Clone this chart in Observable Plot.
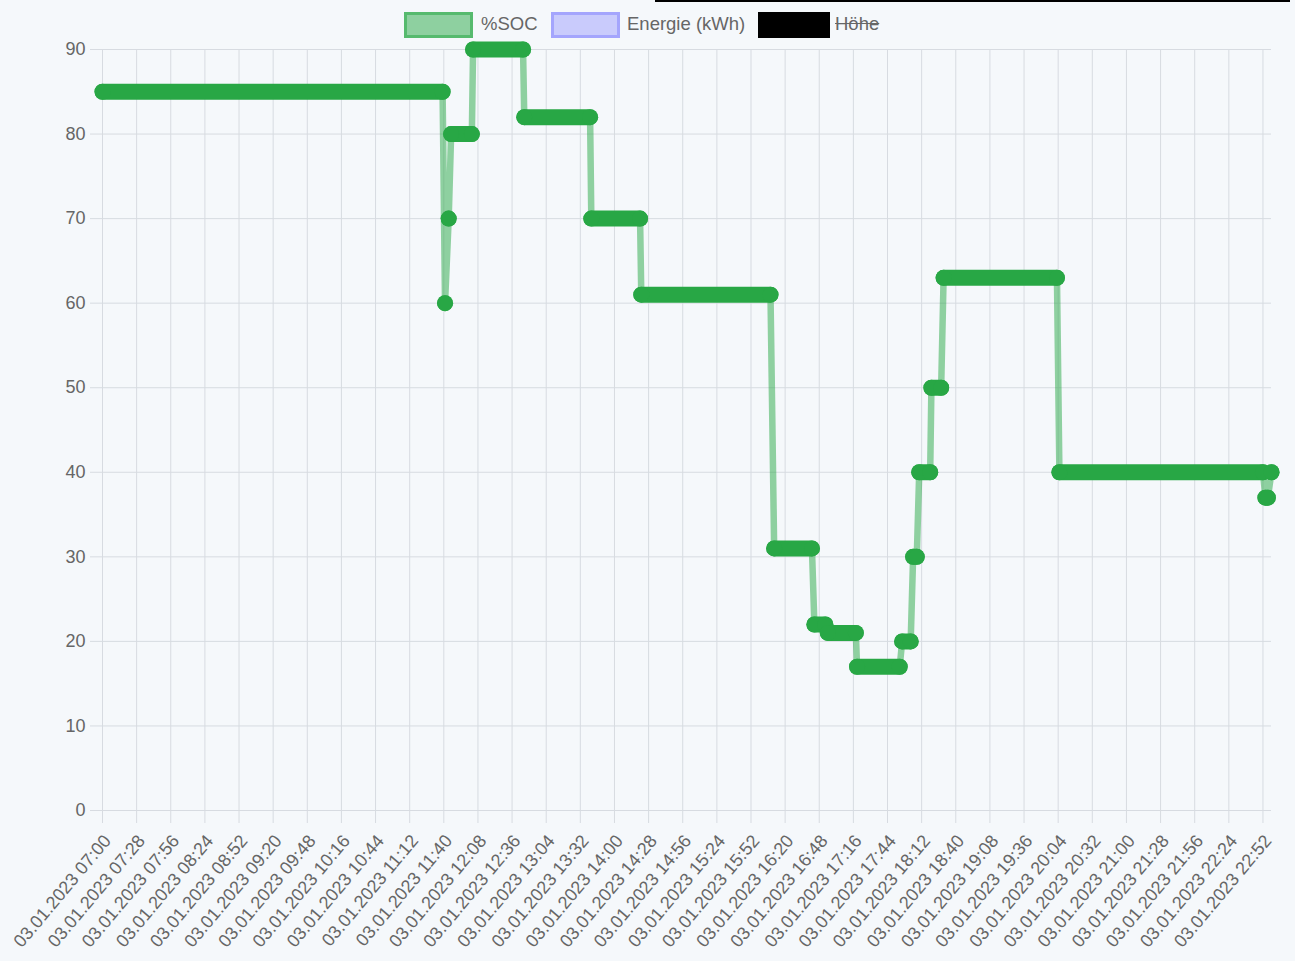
<!DOCTYPE html>
<html><head><meta charset="utf-8">
<script src="https://cdn.jsdelivr.net/npm/d3@7"></script>
<script src="https://cdn.jsdelivr.net/npm/@observablehq/plot@0.6"></script>
<style>
html,body{margin:0;padding:0;background:#f5f8fb;width:1295px;height:961px;overflow:hidden;font-family:Arial,"Liberation Sans",Helvetica,sans-serif;}
#topline{position:absolute;left:655px;top:0;width:635px;height:2px;background:#000;}
#legend{position:relative;height:39px;}
.box{position:absolute;top:12px;height:26px;box-sizing:border-box;}
.lab{position:absolute;top:11px;height:26px;line-height:26px;font-size:18.5px;color:#666;white-space:nowrap;}
#chart{position:relative;height:922px;}
</style></head><body>
<div id="topline"></div>
<div id="legend"></div>
<div id="chart"></div>
<script>
const dayISO = "2023-01-03";
// %SOC readings (time of day, value)
const times = ["07:00","11:39","11:41","11:44","11:46","12:03","12:04","12:45","12:46","13:40","13:41","14:21","14:22","16:08","16:11","16:42","16:44","16:53","16:55","17:18","17:19","17:54","17:56","18:03","18:05","18:08","18:10","18:19","18:20","18:28","18:30","20:03","20:05","22:52","22:54","22:56","22:59"];
const soc   = [85,85,60,70,80,80,90,90,82,82,70,70,61,61,31,31,22,22,21,21,17,17,20,20,30,30,40,40,50,50,63,63,40,40,37,37,40];
const tickLabels = ["07:00","07:28","07:56","08:24","08:52","09:20","09:48","10:16","10:44","11:12","11:40","12:08","12:36","13:04","13:32","14:00","14:28","14:56","15:24","15:52","16:20","16:48","17:16","17:44","18:12","18:40","19:08","19:36","20:04","20:32","21:00","21:28","21:56","22:24","22:52"];
const yTicks = [0,10,20,30,40,50,60,70,80,90];
const xStart = "07:00", xEnd = "22:59";
const legendItems = [
  {label:"%SOC", left:404, width:69, textLeft:481, bg:"rgba(40,167,69,0.5)", border:"3px solid rgba(40,167,69,0.55)", strike:false},
  {label:"Energie (kWh)", left:551, width:69, textLeft:627, bg:"rgba(120,120,255,0.35)", border:"3px solid rgba(120,120,255,0.45)", strike:false},
  {label:"Höhe", left:758, width:72, textLeft:835, bg:"#000", border:"none", strike:true}
];

const parse = s => new Date(`${dayISO}T${s}:00Z`);
const data = times.map((t,i)=>({t: parse(t), v: soc[i]}));
let run = 0;
data.forEach((d,i)=>{ if(i>0 && d.v!==data[i-1].v) run++; d.run = run; });
const tickDates = tickLabels.map(parse);
const fmt = d3.utcFormat("%d.%m.%Y %H:%M");

const leg = document.getElementById("legend");
for (const it of legendItems) {
  const b = document.createElement("div");
  b.className = "box";
  b.style.left = it.left + "px"; b.style.width = it.width + "px";
  b.style.background = it.bg; b.style.border = it.border;
  leg.appendChild(b);
  const l = document.createElement("div");
  l.className = "lab"; l.style.left = it.textLeft + "px";
  l.textContent = it.label;
  if (it.strike) l.style.textDecoration = "line-through";
  leg.appendChild(l);
}

const gridColor = "#d7dbe1";
const chart = Plot.plot({
  width: 1295, height: 922,
  marginTop: 10, marginBottom: 151, marginLeft: 102, marginRight: 24,
  style: {background: "transparent", fontFamily: "Arial, 'Liberation Sans', sans-serif", fontSize: "18px", color: "#666", overflow: "visible"},
  x: {type: "utc", domain: [parse(xStart), parse(xEnd)]},
  y: {domain: [0, 90]},
  marks: [
    Plot.gridX(tickDates, {stroke: gridColor, strokeOpacity: 1}),
    Plot.gridY(yTicks, {stroke: gridColor, strokeOpacity: 1}),
    Plot.axisX(tickDates, {anchor: "bottom", tickSize: 13, tickFormat: () => "", stroke: gridColor, label: null}),
    Plot.axisX(tickDates, {anchor: "bottom", tickSize: 0, tickPadding: 27, tickRotate: -50, tickFormat: fmt, fill: "#666", fontSize: 18, dx: 5, label: null}),
    Plot.axisY(yTicks, {anchor: "left", tickSize: 12, tickPadding: 5, stroke: gridColor, fill: "#666", fontSize: 18, label: null}),
    Plot.line(data, {x: "t", y: "v", stroke: "#28a745", strokeOpacity: 0.5, strokeWidth: 6.5}),
    Plot.line(data, {x: "t", y: "v", z: "run", stroke: "#28a745", strokeWidth: 16, strokeLinecap: "round", strokeLinejoin: "round"}),
    Plot.dot(data, {x: "t", y: "v", r: 8, fill: "#28a745", stroke: "none"})
  ]
});
document.getElementById("chart").appendChild(chart);
</script>
</body></html>
